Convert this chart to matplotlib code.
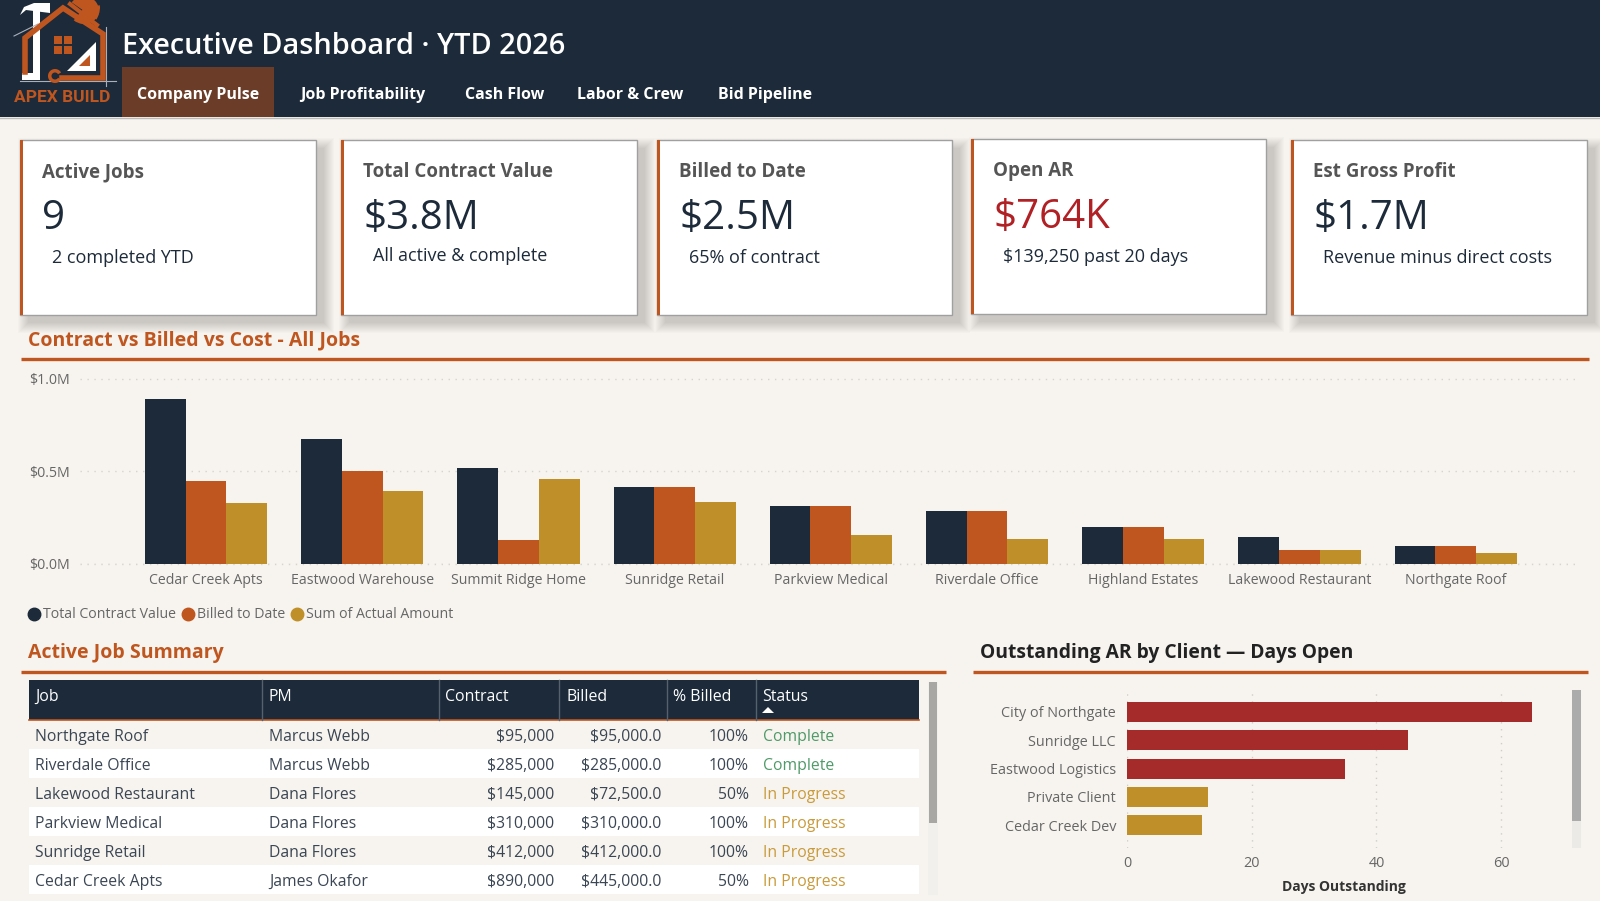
import matplotlib
matplotlib.use("Agg")
import matplotlib.pyplot as plt
from matplotlib.lines import Line2D
from matplotlib.patches import Polygon, Rectangle, Wedge

W, H = 1600, 901
plt.rcParams["font.family"] = ["Open Sans", "DejaVu Sans"]

NAVY = "#1C2A3A"
ORANGE = "#C0561F"
GOLD = "#BF9029"
RED = "#A52A2A"
BG = "#F7F4EF"
GREY = "#666666"
DOTS = (0, (1, 4))

# data
tabs = ["Company Pulse", "Job Profitability", "Cash Flow", "Labor & Crew", "Bid Pipeline"]
card_titles = ["Active Jobs", "Total Contract Value", "Billed to Date", "Open AR", "Est Gross Profit"]
card_values = ["9", "$3.8M", "$2.5M", "$764K", "$1.7M"]
card_subs = ["2 completed YTD", "All active & complete", "65% of contract",
             "$139,250 past 20 days", "Revenue minus direct costs"]

chart_jobs = ["Cedar Creek Apts", "Eastwood Warehouse", "Summit Ridge Home", "Sunridge Retail",
              "Parkview Medical", "Riverdale Office", "Highland Estates", "Lakewood Restaurant",
              "Northgate Roof"]
contract_vals = [890000, 675000, 515000, 412000, 310000, 285000, 195000, 145000, 95000]
billed_vals = [445000, 500000, 128000, 412000, 310000, 285000, 195000, 72500, 95000]
cost_vals = [325000, 390000, 456000, 330000, 155000, 130000, 130000, 72000, 55000]

table_headers = ["Job", "PM", "Contract", "Billed", "% Billed", "Status"]
table_jobs = ["Northgate Roof", "Riverdale Office", "Lakewood Restaurant", "Parkview Medical",
              "Sunridge Retail", "Cedar Creek Apts"]
table_pms = ["Marcus Webb", "Marcus Webb", "Dana Flores", "Dana Flores", "Dana Flores", "James Okafor"]
table_contract = [95000, 285000, 145000, 310000, 412000, 890000]
table_billed = [95000.0, 285000.0, 72500.0, 310000.0, 412000.0, 445000.0]
table_pct = [100, 100, 50, 100, 100, 50]
table_status = ["Complete", "Complete", "In Progress", "In Progress", "In Progress", "In Progress"]

ar_clients = ["City of Northgate", "Sunridge LLC", "Eastwood Logistics", "Private Client", "Cedar Creek Dev"]
ar_days = [65, 45, 35, 13, 12]


def axes_px(left, top, right, bottom):
    return fig.add_axes([left / W, 1 - bottom / H, (right - left) / W, (bottom - top) / H])


fig = plt.figure(figsize=(W / 100, H / 100), dpi=100, facecolor=BG)
page = fig.add_axes([0, 0, 1, 1])
page.set_xlim(0, W)
page.set_ylim(H, 0)
page.axis("off")

# header
page.add_patch(Rectangle((0, 0), W, 117, fc=NAVY, ec="none"))
page.plot([0, W], [118, 118], color="#BBBBBB", lw=1)
page.add_patch(Rectangle((122, 67), 152, 50, fc="#6B3D28", ec="none"))
page.text(122, 46, "Executive Dashboard · YTD 2026", color="white", fontsize=20.8,
          va="center", fontweight="semibold")
tab_x = [137, 300, 465, 577, 718]
for x, label in zip(tab_x, tabs):
    page.text(x, 95, label, color="white", fontsize=11.5, fontweight="bold", va="center")

# logo
page.add_patch(Rectangle((33, 10), 7, 70, fc="white", ec="none", zorder=2))
page.add_patch(Polygon([[20, 15], [24, 7], [34, 3], [50, 3], [50, 13], [34, 11], [26, 10]],
                       fc="white", ec="none", zorder=2))
page.add_patch(Rectangle((22, 73), 18, 7, fc="white", ec="none", zorder=2))
page.plot([25, 25, 63, 103, 103, 62], [72, 38, 8, 34, 78, 78], color=ORANGE, lw=4,
          solid_joinstyle="miter", zorder=3)
for wx, wy in [(54, 36), (64, 36), (54, 46), (64, 46)]:
    page.add_patch(Rectangle((wx, wy), 8, 8, fc=ORANGE, ec="none"))
page.add_patch(Polygon([[67, 71], [96, 42], [96, 71]], fc="white", ec="none", zorder=4))
page.add_patch(Polygon([[79, 66], [90, 55], [90, 66]], fc=ORANGE, ec="none", zorder=5))
page.add_patch(Wedge((84, 11), 15, -145, 35, fc=ORANGE, ec="none", zorder=5))
page.add_patch(Wedge((84, 8), 16, -10, 130, fc=ORANGE, ec="none", zorder=5))
page.plot([70, 97], [4, 25], color=ORANGE, lw=3, zorder=5)
page.add_patch(Wedge((55, 76), 7, 30, 330, width=3.5, fc=ORANGE, ec="none", zorder=5))
page.plot([14, 38], [36, 24], color="#AAB0B8", lw=0.8)
page.plot([106, 106], [27, 86], color="#AAB0B8", lw=0.8)
page.plot([20, 116], [81, 81], color="#AAB0B8", lw=0.8, zorder=2)
page.text(62, 97, "APEX BUILD", color=ORANGE, fontsize=12.5, ha="center", va="center",
          family="Roboto", fontweight="bold")

# cards
card_left = [20, 341, 657, 971, 1291]
card_right = [316, 637, 952, 1266, 1587]
card_top = [140, 140, 140, 139, 140]
sub_y = [258, 256, 258, 257, 258]
value_colors = [NAVY, NAVY, NAVY, "#B02024", NAVY]
for i in range(5):
    left, right, top = card_left[i], card_right[i], card_top[i]
    for grow in range(11):
        page.add_patch(Rectangle((left + 8 - grow, top + 8 - grow), right - left + 2 * grow, 175 + 2 * grow,
                                 fc="black", ec="none", alpha=0.016, zorder=1))
    page.add_patch(Rectangle((left, top), right - left, 175, fc="white", ec="#A0A0A0", lw=1, zorder=2))
    page.add_patch(Rectangle((left, top), 3, 175, fc=ORANGE, ec="none", zorder=3))
    page.text(left + 22, top + 32, card_titles[i], color="#555555", fontsize=13.5, fontweight="bold",
              va="center", zorder=4)
    page.text(left + 22, top + 79, card_values[i], color=value_colors[i], fontsize=29, va="center", zorder=4)
    page.text(left + 32, sub_y[i], card_subs[i], color=NAVY, fontsize=13, va="center", zorder=4)

# section titles
page.text(28, 340, "Contract vs Billed vs Cost - All Jobs", color=ORANGE, fontsize=14,
          fontweight="bold", va="center")
page.plot([21, 1589], [358.5, 358.5], color=ORANGE, lw=2.4, solid_capstyle="butt")
page.text(28, 653, "Active Job Summary", color=ORANGE, fontsize=14, fontweight="bold", va="center")
page.plot([21, 946], [672, 672], color=ORANGE, lw=2.4, solid_capstyle="butt")
page.text(980, 653, "Outstanding AR by Client — Days Open", color="#222222", fontsize=13.9,
          fontweight="bold", va="center")
page.plot([973, 1588], [672, 672], color=ORANGE, lw=2.4, solid_capstyle="butt")

# column chart
ax = axes_px(80, 360.5, 1580, 563.5)
ax.patch.set_alpha(0)
x = list(range(len(chart_jobs)))
bw = 0.261
ax.bar([i - bw for i in x], contract_vals, bw, color=NAVY, zorder=3)
ax.bar(x, billed_vals, bw, color=ORANGE, zorder=3)
ax.bar([i + bw for i in x], cost_vals, bw, color=GOLD, zorder=3)
ax.set_xlim(-0.807, 8.796)
ax.set_ylim(0, 1098000)
ax.set_yticks([0, 500000, 1000000])
ax.set_yticklabels(["$0.0M", "$0.5M", "$1.0M"])
ax.set_xticks(x)
ax.set_xticklabels(chart_jobs)
ax.tick_params(length=0, labelsize=10.2, labelcolor=GREY)
ax.tick_params(axis="x", pad=7)
ax.tick_params(axis="y", pad=7)
ax.grid(axis="y", color="#D6D4D0", ls=DOTS, lw=1, zorder=0)
ax.axhline(0, color="#D6D4D0", ls=DOTS, lw=1, clip_on=False, zorder=0)
for s in ax.spines.values():
    s.set_visible(False)

handles = [Line2D([], [], marker="o", ls="", ms=9, color=c) for c in [NAVY, ORANGE, GOLD]]
fig.legend(handles, ["Total Contract Value", "Billed to Date", "Sum of Actual Amount"],
           loc="center left", bbox_to_anchor=(13 / W, 1 - 615 / H), ncol=3, frameon=False,
           fontsize=10.2, labelcolor=GREY, handletextpad=-0.35, columnspacing=-0.2, borderpad=0)

# table
col_lines = [262, 439, 559, 667, 756]
head_x = [35, 269, 445, 566, 673, 762]
row_top = 720
row_h = 29
page.add_patch(Rectangle((29, 680), 890, 40, fc=NAVY, ec="none"))
page.plot([29, 919], [720, 720], color=ORANGE, lw=1.2)
for hx, label in zip(head_x, table_headers):
    page.text(hx, 697, label, color="white", fontsize=11.4, va="center")
for cx in col_lines:
    page.plot([cx, cx], [680, 720], color="#56616E", lw=1)
page.add_patch(Polygon([[762, 713], [768, 707], [774, 713]], fc="white", ec="none"))
status_colors = {"Complete": "#4E9A68", "In Progress": "#C99A3A"}
for i in range(len(table_jobs)):
    y = row_top + i * row_h
    page.add_patch(Rectangle((29, y), 890, row_h, fc="white" if i % 2 else BG, ec="none"))
    ty = y + row_h / 2 + 2.5
    page.text(35, ty, table_jobs[i], color="#3B4654", fontsize=11.3, va="center")
    page.text(269, ty, table_pms[i], color="#3B4654", fontsize=11.3, va="center")
    page.text(554, ty, f"${table_contract[i]:,}", color="#3B4654", fontsize=11.3, va="center", ha="right")
    page.text(661, ty, f"${table_billed[i]:,.1f}", color="#3B4654", fontsize=11.3, va="center", ha="right")
    page.text(749, ty, f"{table_pct[i]}%", color="#3B4654", fontsize=11.3, va="center", ha="right")
    page.text(763, ty, table_status[i], color=status_colors[table_status[i]], fontsize=11.3, va="center")
page.add_patch(Rectangle((928, 682), 10, 213, fc="#F2F0EC", ec="none"))
page.add_patch(Rectangle((929, 682), 8, 141, fc="#A8A7A3", ec="none"))

# AR bars
ax2 = axes_px(1127, 690, 1576, 848)
ax2.patch.set_alpha(0)
ar_colors = [RED if d > 30 else GOLD for d in ar_days]
ax2.barh(ar_clients, ar_days, height=0.707, color=ar_colors, zorder=3)
ax2.set_xlim(0, 72)
ax2.set_ylim(4.806, -0.777)
ax2.set_xticks([0, 20, 40, 60])
ax2.tick_params(length=0, labelsize=10.4, labelcolor=GREY)
ax2.tick_params(axis="x", pad=6)
ax2.tick_params(axis="y", pad=8)
ax2.grid(axis="x", color="#CFCDC9", ls=DOTS, lw=1, zorder=0)
for s in ax2.spines.values():
    s.set_visible(False)
ax2.set_xlabel("Days Outstanding", fontsize=10, fontweight="bold", color="#333333")
ax2.xaxis.set_label_coords((1344 - 1127) / 449, -0.2)
page.add_patch(Rectangle((1572, 690), 9, 158, fc="#EBEAE7", ec="none"))
page.add_patch(Rectangle((1572, 690), 9, 131, fc="#ABABAB", ec="none"))

fig.savefig("out.png", dpi=100, facecolor=BG)
